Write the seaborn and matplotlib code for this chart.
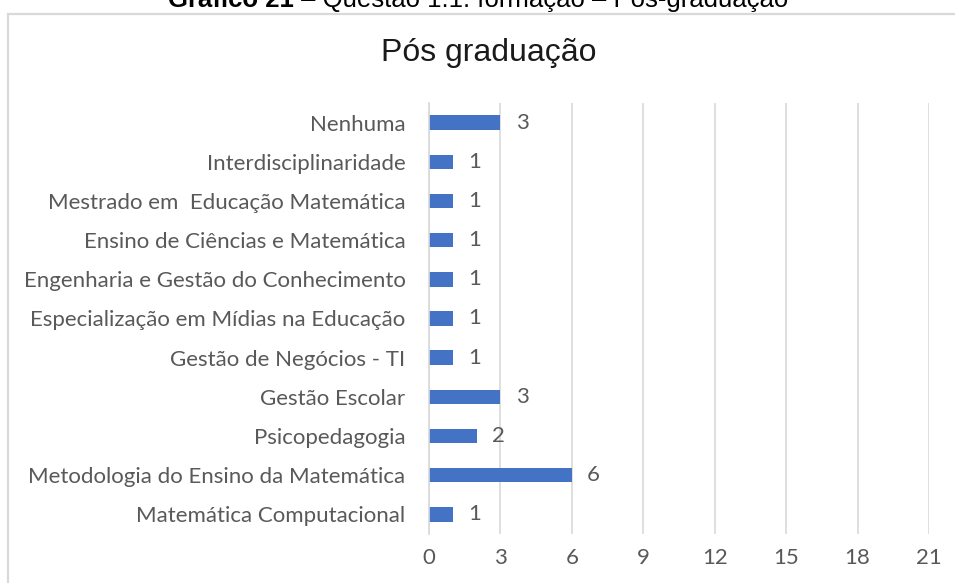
import matplotlib
matplotlib.use("Agg")
import matplotlib.pyplot as plt
import seaborn as sns
import pandas as pd
from matplotlib.patches import Rectangle

# Respostas por curso de pós-graduação
categories = [
    "Nenhuma",
    "Interdisciplinaridade",
    "Mestrado em  Educação Matemática",
    "Ensino de Ciências e Matemática",
    "Engenharia e Gestão do Conhecimento",
    "Especialização em Mídias na Educação",
    "Gestão de Negócios - TI",
    "Gestão Escolar",
    "Psicopedagogia",
    "Metodologia do Ensino da Matemática",
    "Matemática Computacional",
]
counts = [3, 1, 1, 1, 1, 1, 1, 3, 2, 6, 1]
x_ticks = [0, 3, 6, 9, 12, 15, 18, 21]

chart_title = "Pós graduação"
caption_bold = "Gráfico 21"
caption_rest = " – Questão 1.1: formação – Pós-graduação"

sns.set_theme(style="white")
LABEL_FONT = ["Lato", "DejaVu Sans"]
TITLE_FONT = ["Liberation Sans", "DejaVu Sans"]
GREY = "#595959"
GRID = "#d9d9d9"
BAR = "#4472C4"

W, H = 955, 583
fig = plt.figure(figsize=(W / 100, H / 100), dpi=100)
fig.patch.set_facecolor("white")

# chart frame (open at right and bottom edges of the page)
fig.add_artist(Rectangle((8 / W, -0.1), 1.2, 1.1 - 14 / H,
                         transform=fig.transFigure, fill=False,
                         edgecolor=GRID, linewidth=1.6))

ax = fig.add_axes([429 / W, 1 - 534 / H, 500 / W, 431 / H])

df = pd.DataFrame({"curso": categories, "respostas": counts})
sns.barplot(data=df, x="respostas", y="curso", order=categories,
            color=BAR, saturation=1, width=0.37, linewidth=0, ax=ax)

ax.set_xlim(0, 21)
ax.set_ylim(len(categories) - 0.5, -0.5)
ax.set_xticks(x_ticks)
ax.set_xticklabels([str(t) for t in x_ticks])
ax.set_xlabel("")
ax.set_ylabel("")
ax.set_axisbelow(True)
ax.xaxis.grid(True, color=GRID, linewidth=1.2)
ax.yaxis.grid(False)
for side in ["top", "right", "bottom"]:
    ax.spines[side].set_visible(False)
ax.spines["left"].set_color(GRID)
ax.spines["left"].set_linewidth(1.2)
ax.set_facecolor("none")

ax.tick_params(axis="x", length=0, pad=10, labelcolor=GREY)
ax.tick_params(axis="y", length=0, pad=17, labelcolor=GREY)
for lab in ax.get_xticklabels() + ax.get_yticklabels():
    lab.set_fontfamily(LABEL_FONT)
    lab.set_fontsize(16)

ax.bar_label(ax.containers[0], labels=[str(v) for v in counts], padding=11,
             color=GREY, fontsize=16, fontfamily=LABEL_FONT)

fig.text(489 / W, 1 - 61 / H, chart_title, ha="center", va="baseline",
         fontsize=23, color="#1a1a1a", fontfamily=TITLE_FONT)

# caption above the frame
t1 = fig.text(168 / W, 1 - 7 / H, caption_bold, ha="left", va="baseline",
              fontsize=18.5, fontweight="bold", color="black",
              fontfamily=TITLE_FONT)
fig.add_artist(matplotlib.text.Annotation(
    caption_rest, xy=(1, 0), xycoords=t1, ha="left", va="bottom",
    fontsize=18.5, color="black", fontfamily=TITLE_FONT))

fig.savefig("out.png", dpi=100)
